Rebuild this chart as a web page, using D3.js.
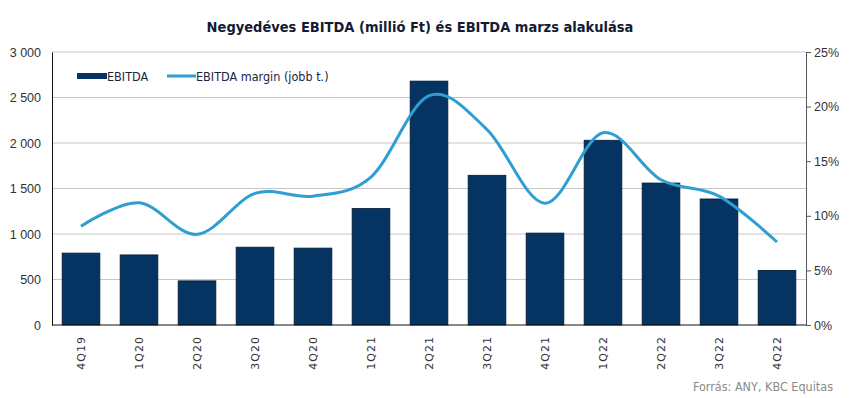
<!DOCTYPE html>
<html><head><meta charset="utf-8">
<script src="https://cdn.jsdelivr.net/npm/d3@7"></script>
<style>body{margin:0;background:#fff}svg{display:block}</style>
</head><body>
<script>
const categories = ["4Q19","1Q20","2Q20","3Q20","4Q20","1Q21","2Q21","3Q21","4Q21","1Q22","2Q22","3Q22","4Q22"];
const ebitda = [790, 770, 485, 855, 845, 1280, 2680, 1645, 1010, 2030, 1560, 1385, 600];
const margin = [9.05, 11.2, 8.3, 12.05, 11.8, 13.55, 21.0, 17.9, 11.15, 17.6, 13.3, 11.8, 7.6];
const leftTicks = [0, 500, 1000, 1500, 2000, 2500, 3000];
const rightTicks = [0, 5, 10, 15, 20, 25];
const title = "Negyedéves EBITDA (millió Ft) és EBITDA marzs alakulása";
const legendLabels = ["EBITDA", "EBITDA margin (jobb t.)"];
const source = "Forrás: ANY, KBC Equitas";

const W = 850, H = 398;
const L = 52, R = 806, T = 52, B = 325;
const svg = d3.select("body").append("svg").attr("width", W).attr("height", H);

const x = d3.scaleBand().domain(categories).range([L, R]).paddingInner(0.35).paddingOuter(0.175);
const y = d3.scaleLinear().domain([0, 3000]).range([B, T]);
const y2 = d3.scaleLinear().domain([0, 25]).range([B, T]);

// gridlines
svg.append("g").selectAll("line").data(leftTicks.filter(d => d > 0)).join("line")
  .attr("x1", L).attr("x2", R).attr("y1", d => y(d)).attr("y2", d => y(d))
  .attr("stroke", "#c6c6c6").attr("stroke-width", 1);

// title
svg.append("text").attr("x", 420).attr("y", 32).attr("text-anchor", "middle")
  .attr("font-family", "'DejaVu Sans Condensed','DejaVu Sans',sans-serif").attr("font-weight", "bold")
  .attr("font-size", 14.5).attr("fill", "#141a33").text(title);

// bars
svg.append("g").selectAll("rect").data(ebitda).join("rect")
  .attr("x", (d, i) => x(categories[i])).attr("width", x.bandwidth())
  .attr("y", d => y(d)).attr("height", d => B - y(d))
  .attr("fill", "#053462").attr("stroke", "#021a33").attr("stroke-width", 0.8);

// line
const line = d3.line().x((d, i) => x(categories[i]) + x.bandwidth() / 2).y(d => y2(d))
  .curve(d3.curveCatmullRom.alpha(0));
svg.append("path").datum(margin).attr("d", line).attr("fill", "none")
  .attr("stroke", "#2f9ed1").attr("stroke-width", 3).attr("stroke-linecap", "butt");

// left axis
const axL = svg.append("g").attr("transform", `translate(${L},0)`)
  .call(d3.axisLeft(y).tickValues(leftTicks).tickSize(0).tickPadding(11)
    .tickFormat(d => d3.format(",")(d).replace(/,/g, " ")));
axL.select(".domain").attr("stroke", "#111");
axL.selectAll("text").attr("font-family", "'Liberation Sans',Arial,sans-serif").attr("font-size", 12.5).attr("fill", "#333");

// right axis
const axR = svg.append("g").attr("transform", `translate(${R},0)`)
  .call(d3.axisRight(y2).tickValues(rightTicks).tickSize(5).tickPadding(3).tickFormat(d => d + "%"));
axR.select(".domain").attr("stroke", "#555");
axR.selectAll(".tick line").attr("stroke", "#555");
axR.selectAll("text").attr("font-family", "'Liberation Sans',Arial,sans-serif").attr("font-size", 12.5).attr("fill", "#333");

// baseline
svg.append("line").attr("x1", L).attr("x2", R).attr("y1", B).attr("y2", B).attr("stroke", "#111");

// x labels
svg.append("g").selectAll("text").data(categories).join("text")
  .attr("transform", d => `translate(${x(d) + x.bandwidth() / 2 + 4},336) rotate(-90)`)
  .attr("text-anchor", "end")
  .attr("font-family", "'DejaVu Sans',sans-serif").attr("font-size", 11).attr("letter-spacing", 1)
  .attr("fill", "#333").text(d => d);

// legend
const lg = svg.append("g");
lg.append("rect").attr("x", 77).attr("y", 73).attr("width", 30).attr("height", 6).attr("fill", "#053462");
lg.append("text").attr("x", 107).attr("y", 81).text(legendLabels[0]);
lg.append("line").attr("x1", 167).attr("x2", 196).attr("y1", 76).attr("y2", 76).attr("stroke", "#2f9ed1").attr("stroke-width", 3);
lg.append("text").attr("x", 196).attr("y", 81).text(legendLabels[1]);
lg.selectAll("text").attr("font-family", "'DejaVu Sans Condensed','DejaVu Sans',sans-serif").attr("font-size", 12.5).attr("fill", "#1c2340");

// source
svg.append("text").attr("x", 833).attr("y", 391).attr("text-anchor", "end")
  .attr("font-family", "'DejaVu Sans Condensed','DejaVu Sans',sans-serif").attr("font-size", 12.5)
  .attr("fill", "#8a8a8a").text(source);
</script>
</body></html>
